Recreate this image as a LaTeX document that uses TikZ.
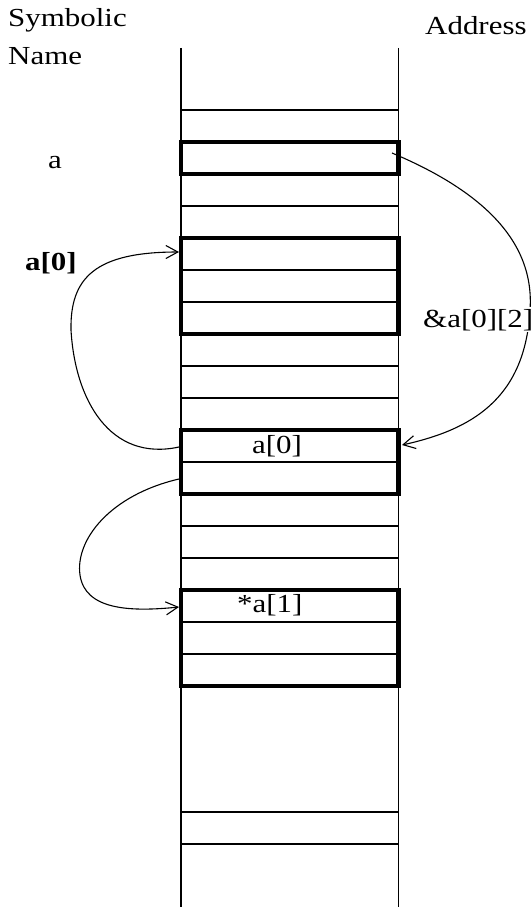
\documentclass[tikz,border=0pt]{standalone}
\usepackage{fontspec}
\setmainfont{Liberation Serif}[FakeStretch=1.19]
\usetikzlibrary{arrows.meta}
\begin{document}
\begin{tikzpicture}[x=1pt,y=-1pt,
  cellline/.style={line width=1.2pt},
  thickbox/.style={draw, line width=4.4pt, minimum width=217.5pt, inner sep=0pt},
  lbl/.style={font=\fontsize{26}{30}\selectfont, inner sep=0pt, anchor=base west},
  ptr/.style={line width=1.1pt, -{Straight Barb[length=12pt,width=13pt,line width=1.1pt]}}]
\useasboundingbox (0,0) rectangle (532,907);
% column
\draw[cellline] (181,48) -- (181,907);
\draw[cellline] (398.5,48) -- (398.5,907);
\foreach \yy in {110,142,...,686,812,844}
  \draw[cellline] (181,\yy) -- (398.5,\yy);
% thick boxes
\node[thickbox, minimum height=32pt] (boxA) at (289.75,158) {};
\node[thickbox, minimum height=96pt] (boxB) at (289.75,286) {};
\node[thickbox, minimum height=64pt] (boxC) at (289.75,462) {};
\node[thickbox, minimum height=96pt] (boxD) at (289.75,638) {};
% endpoints
\coordinate (aval) at (392,153);
\coordinate (cin) at (402,445);
\coordinate (cout1) at (179,447);
\coordinate (bin) at (179,252);
\coordinate (cout2) at (179,479);
\coordinate (din) at (179,607);
% pointers
\draw[ptr] (aval) .. controls (480,190) and (535,240) .. (530,310)
  .. controls (525,400) and (470,430) .. (cin);
\draw[ptr] (cout1) .. controls (110,462) and (75,400) .. (71,330)
  .. controls (70,278) and (95,252) .. (bin);
\draw[ptr] (cout2) .. controls (110,495) and (75,540) .. (80,575)
  .. controls (85,610) and (130,612) .. (din);
% labels
\node[lbl] (symb) at (8,27) {Symbolic};
\node[lbl] (name) at (8,64) {Name};
\node[lbl] (addr) at (425,35) {Address};
\node[lbl] (la) at (48,168) {a};
\node[lbl, font=\fontsize{26}{30}\selectfont\bfseries] (la0) at (25,270) {a[0]};
\node[lbl] (ina0) at (252,453) {a[0]};
\node[lbl] (ina1) at (237,612) {*a[1]};
\node[lbl, fill=white, inner sep=2pt] (addr02) at (421,327) {\&a[0][2]};
\end{tikzpicture}
\end{document}
